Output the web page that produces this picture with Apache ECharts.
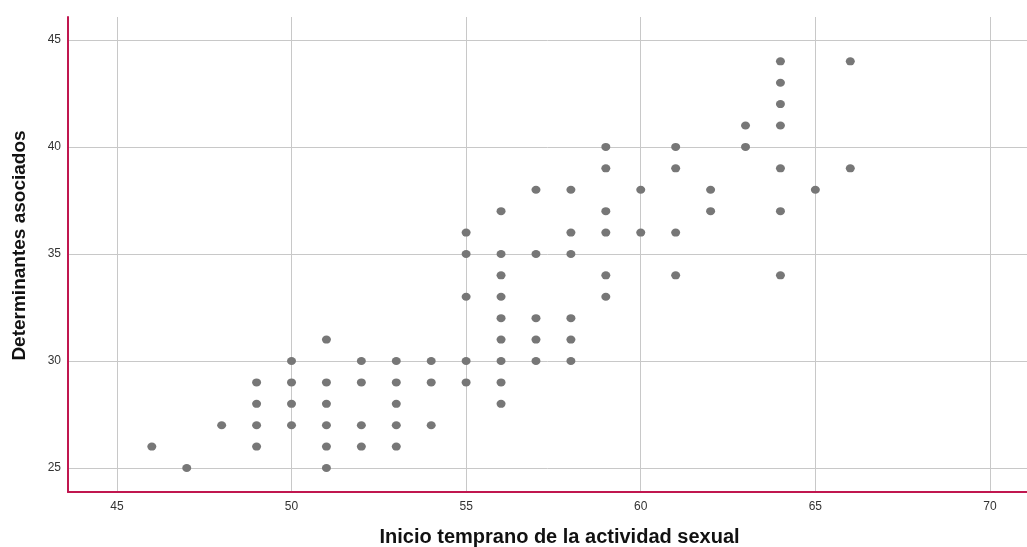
<!DOCTYPE html>
<html>
<head>
<meta charset="utf-8">
<script src="https://cdn.jsdelivr.net/npm/echarts@6/dist/echarts.min.js"></script>
<style>html,body{margin:0;padding:0;background:#fff}#c{width:1027px;height:547px}</style>
</head>
<body>
<div id="c"></div>
<script>
// x value -> list of y values observed
var xValues = [46, 47, 48, 49, 50, 51, 52, 53, 54, 55, 56, 57, 58, 59, 60, 61, 62, 63, 64, 65, 66];
var yLists = [
  [26],
  [25],
  [27],
  [29, 28, 27, 26],
  [30, 29, 28, 27],
  [31, 29, 28, 27, 26, 25],
  [30, 29, 27, 26],
  [30, 29, 28, 27, 26],
  [30, 29, 27],
  [36, 35, 33, 30, 29],
  [37, 35, 34, 33, 32, 31, 30, 29, 28],
  [38, 35, 32, 31, 30],
  [38, 36, 35, 32, 31, 30],
  [40, 39, 37, 36, 34, 33],
  [38, 36],
  [40, 39, 36, 34],
  [38, 37],
  [41, 40],
  [44, 43, 42, 41, 39, 37, 34],
  [38],
  [44, 39]
];
var xTicks = [45, 50, 55, 60, 65, 70];
var yTicks = [25, 30, 35, 40, 45];
var xTitle = 'Inicio temprano de la actividad sexual';
var yTitle = 'Determinantes asociados';

var points = [];
xValues.forEach(function (x, i) {
  yLists[i].forEach(function (y) { points.push([x, y]); });
});

var chart = echarts.init(document.getElementById('c'));
chart.setOption({
  animation: false,
  backgroundColor: '#fff',
  grid: { left: 68, right: 0, top: 17, bottom: 55, containLabel: false, outerBoundsMode: 'none' },
  xAxis: {
    type: 'value', min: 43.6, max: 71.06,
    name: xTitle, nameLocation: 'middle', nameGap: 35,
    nameTextStyle: { fontFamily: 'Liberation Sans, Arial', fontSize: 20, fontWeight: 'bold', color: '#111', padding: [0, 0, 0, 24] },
    axisLine: { show: true, onZero: false, lineStyle: { color: '#c0174f', width: 2 } },
    axisTick: { show: false, customValues: xTicks },
    axisLabel: { customValues: xTicks, margin: 9, fontFamily: 'Liberation Sans, Arial', fontSize: 12, color: '#333' },
    splitLine: { show: true, lineStyle: { color: '#c8c8c8', width: 1 } }
  },
  yAxis: {
    type: 'value', min: 23.88, max: 46.07,
    name: yTitle, nameLocation: 'middle', nameGap: 39, nameRotate: 90,
    nameTextStyle: { fontFamily: 'Liberation Sans, Arial', fontSize: 19, fontWeight: 'bold', color: '#111', padding: [0, 0, 0, 18] },
    axisLine: { show: true, onZero: false, lineStyle: { color: '#c0174f', width: 2 } },
    axisTick: { show: false, customValues: yTicks },
    axisLabel: { customValues: yTicks, margin: 7, fontFamily: 'Liberation Sans, Arial', fontSize: 12, color: '#333' },
    splitLine: { show: true, lineStyle: { color: '#c8c8c8', width: 1 } }
  },
  series: [{
    type: 'scatter',
    data: points,
    symbol: 'circle',
    symbolSize: [9, 8],
    itemStyle: { color: '#777777', opacity: 1 }
  }]
});
</script>
</body>
</html>
